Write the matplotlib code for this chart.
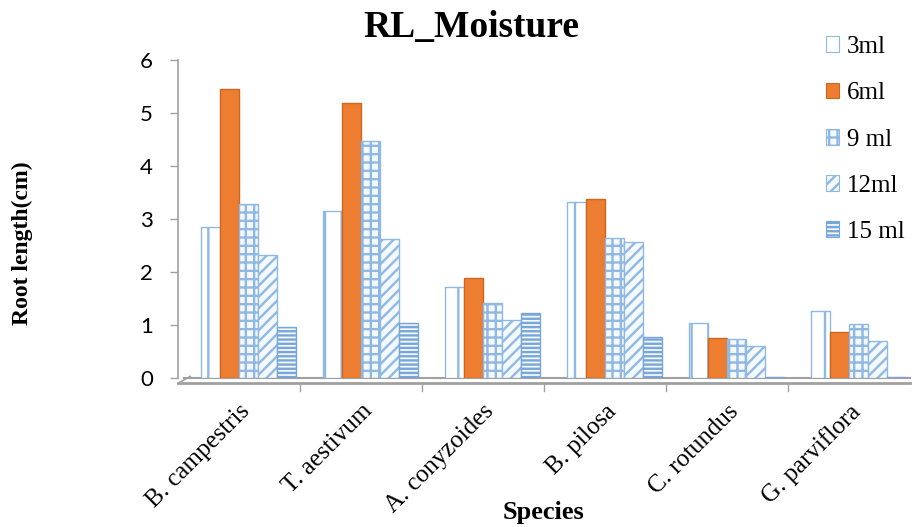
import numpy as np
import matplotlib.pyplot as plt
from matplotlib.patches import Patch

plt.rcParams['font.family'] = ['Liberation Serif', 'DejaVu Serif']
plt.rcParams['hatch.linewidth'] = 1.7

species = ["B. campestris", "T. aestivum", "A. conyzoides", "B. pilosa", "C. rotundus", "G. parviflora"]
series = ["3ml", "6ml", "9 ml", "12ml", "15 ml"]
ml3 = [2.85, 3.15, 1.72, 3.33, 1.03, 1.27]
ml6 = [5.45, 5.18, 1.88, 3.37, 0.76, 0.87]
ml9 = [3.28, 4.48, 1.42, 2.65, 0.74, 1.01]
ml12 = [2.33, 2.63, 1.10, 2.57, 0.60, 0.70]
ml15 = [0.97, 1.03, 1.22, 0.78, 0.02, 0.02]
values = [ml3, ml6, ml9, ml12, ml15]

hatch_col = "#8fb8e2"
styles = [
    dict(facecolor="white", hatch="|", edgecolor=hatch_col),
    dict(facecolor="#ed7d31", hatch=None, edgecolor="#d0661e"),
    dict(facecolor="#f4f9fe", hatch="++", edgecolor=hatch_col),
    dict(facecolor="#f4f9fe", hatch="///", edgecolor=hatch_col),
    dict(facecolor="#f4f9fe", hatch="----", edgecolor="#78a6d8"),
]

fig = plt.figure(figsize=(9.17, 5.27), dpi=100)
W, H = 917, 527
ax = fig.add_axes([178 / W, (H - 378) / H, 732 / W, 318 / H])

x = np.arange(len(species))
width = 0.155
shift = 0.08
for i, (vals, st) in enumerate(zip(values, styles)):
    pos = x + shift + (i - 2) * width
    ax.bar(pos, vals, width=width, linewidth=1.0, zorder=3, **st)

ax.set_xlim(-0.5, 5.5)
ax.set_ylim(0, 6)
ax.set_yticks(range(0, 7))
ax.set_yticklabels([str(v) for v in range(0, 7)], family=['Lato', 'DejaVu Sans'])
ax.tick_params(axis='y', length=6, width=1.0, color="#a0a0a0", labelsize=16, pad=12)
ax.set_xticks(x)
ax.set_xticklabels(species, rotation=45, ha='right', rotation_mode='anchor', fontsize=18)
ax.tick_params(axis='x', length=0, pad=16)
for sp in ["top", "right", "bottom"]:
    ax.spines[sp].set_visible(False)
ax.spines["left"].set_color("#a0a0a0")
ax.spines["left"].set_linewidth(1.2)

# floor of the plot area
ax.plot([-0.45, 5.5], [0, 0], color="#a0a0a0", lw=1.5, zorder=2, clip_on=False)
ax.plot([-0.5, 5.5], [-0.1, -0.1], color="#a0a0a0", lw=2.0, zorder=2, clip_on=False)
ax.plot([-0.5, -0.4], [-0.1, 0.03], color="#a0a0a0", lw=1.2, zorder=2, clip_on=False)
for b in np.arange(0.5, 5.5, 1.0):
    ax.plot([b, b], [-0.1, -0.25], color="#a0a0a0", lw=1.0, clip_on=False)

fig.text(471 / W, 1 - 27 / H, "RL_Moisture", ha='center', va='center', fontsize=27, fontweight='bold')
fig.text(544 / W, 1 - 512 / H, "Species", ha='center', va='center', fontsize=19, fontweight='bold')
fig.text(22 / W, 1 - 243 / H, "Root length(cm)", ha='center', va='center', rotation=90,
         fontsize=17, fontweight='bold')

handles = [Patch(linewidth=0.8, **st) for st in styles]
fig.legend(handles, series, loc='upper left', bbox_to_anchor=(826 / W, 1 - 36 / H),
           frameon=False, fontsize=18, handlelength=0.5, handleheight=0.6,
           handletextpad=0.35, labelspacing=0.97, borderpad=0, borderaxespad=0)

fig.savefig("out.png", dpi=100)
